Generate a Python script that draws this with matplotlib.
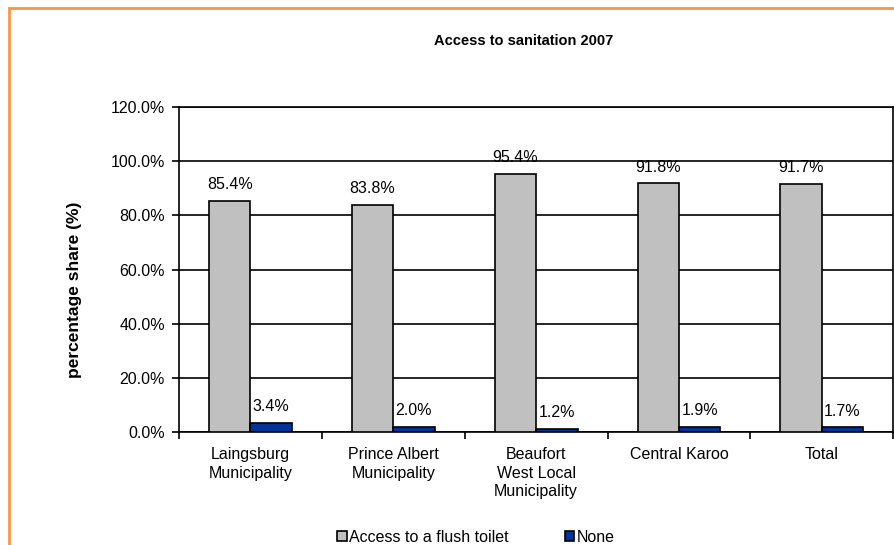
import numpy as np
import matplotlib.pyplot as plt
from matplotlib.patches import Rectangle
from matplotlib.ticker import FuncFormatter

plt.rcParams['font.family'] = ['Liberation Sans', 'DejaVu Sans']

categories = ['Laingsburg\nMunicipality', 'Prince Albert\nMunicipality',
              'Beaufort\nWest Local\nMunicipality', 'Central Karoo', 'Total']
flush = [85.4, 83.8, 95.4, 91.8, 91.7]
none = [3.4, 2.0, 1.2, 1.9, 1.7]
series_names = ['Access to a flush toilet', 'None']

fig = plt.figure(figsize=(8.95, 5.45), dpi=100)
# orange frame around the chart
fig.patches.append(Rectangle((9 / 895, -0.1), 1.2, (545 - 8) / 545 + 0.1,
                             transform=fig.transFigure, fill=False,
                             edgecolor='#F79646', linewidth=2))

ax = fig.add_axes([0.2, 0.2073, 0.798, 0.5964])
x = np.arange(len(categories))
w = 0.29
b1 = ax.bar(x - w / 2, flush, w, color='#C0C0C0', edgecolor='black', linewidth=1.2,
            label=series_names[0], zorder=3)
b2 = ax.bar(x + w / 2, none, w, color='#003399', edgecolor='black', linewidth=1.2,
            label=series_names[1], zorder=3)

for bars in (b1, b2):
    for r in bars:
        ax.text(r.get_x() + r.get_width() / 2, r.get_height() + 3.2,
                f'{r.get_height():.1f}%', ha='center', va='bottom', fontsize=11.5)

ax.set_ylim(0, 120)
ax.set_yticks(np.arange(0, 121, 20))
ax.yaxis.set_major_formatter(FuncFormatter(lambda v, p: f'{v:.1f}%'))
ax.set_xlim(-0.5, len(categories) - 0.5)
ax.set_xticks(x)
ax.set_xticklabels(categories, fontsize=11.5, va='top', linespacing=1.3)
ax.set_xticks(np.arange(-0.5, len(categories)), minor=True)
ax.tick_params(axis='x', which='major', length=0, pad=11)
ax.tick_params(axis='x', which='minor', length=5, width=1.2, direction='out')
ax.tick_params(axis='y', length=5, width=1.2, labelsize=11.5, pad=5)
ax.grid(axis='y', color='black', linewidth=1.2, zorder=0)
for s in ax.spines.values():
    s.set_linewidth(1.2)

fig.text(75 / 895, 1 - 290 / 545, 'percentage share (%)', rotation=90,
         ha='center', va='center', fontsize=12.5, fontweight='bold')
fig.text(0.5855, 0.925, 'Access to sanitation 2007', ha='center', va='center',
         fontsize=10.5, fontweight='bold')

fig.legend(handles=[b1, b2], labels=series_names, loc='center', ncol=2,
           bbox_to_anchor=(0.532, 0.014), frameon=False, fontsize=11.5,
           handlelength=0.6, handleheight=0.6, handletextpad=0.15, columnspacing=3.5)

fig.savefig('out.png', dpi=100)
